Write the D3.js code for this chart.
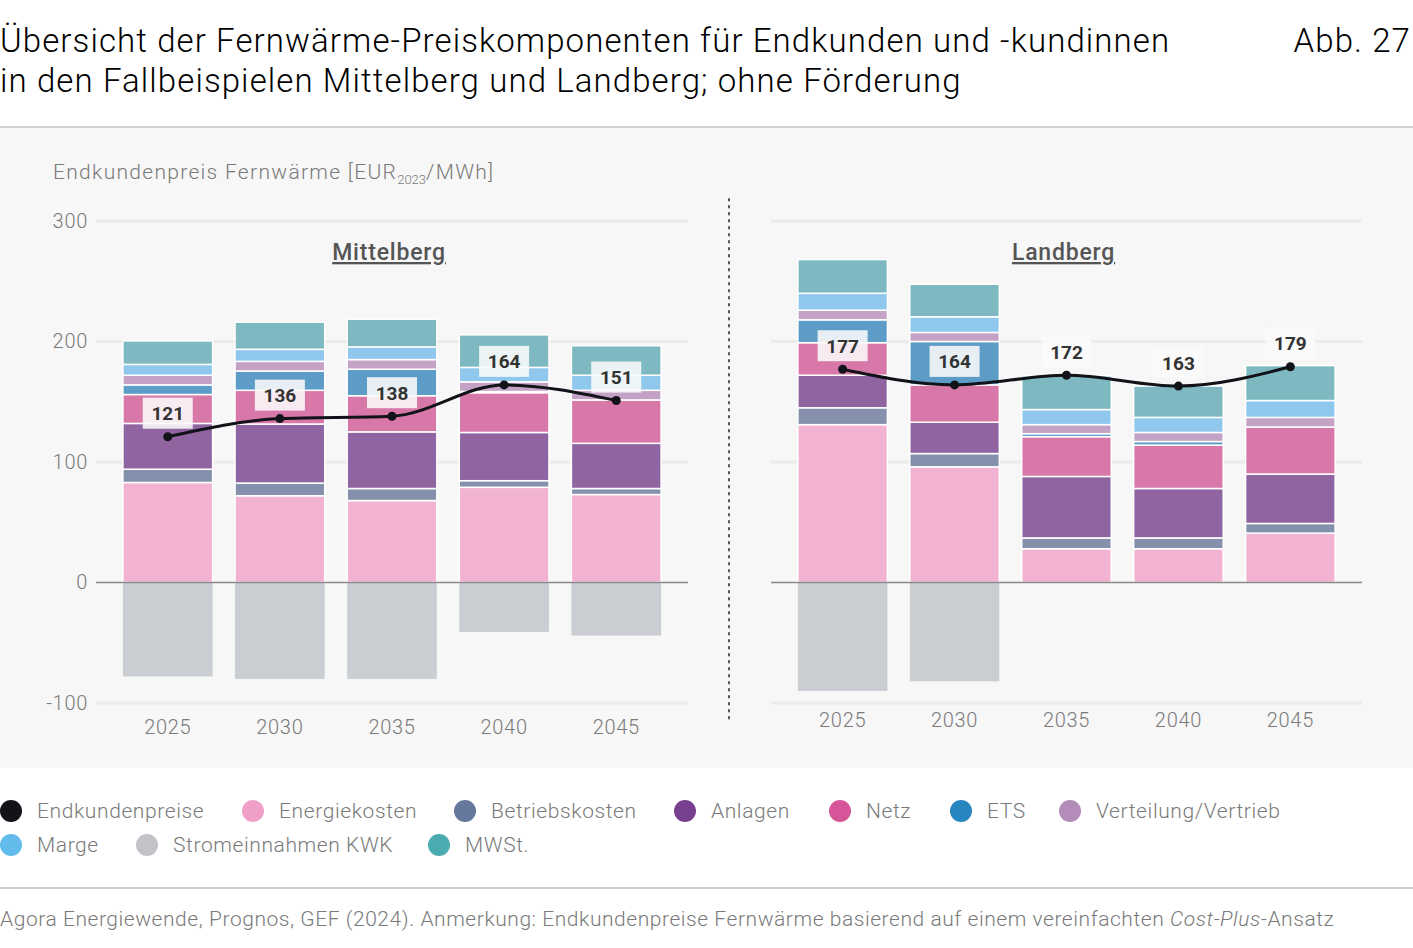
<!DOCTYPE html>
<html>
<head>
<meta charset="utf-8">
<script src="https://cdn.jsdelivr.net/npm/d3@7"></script>
<style>
  body { margin: 0; background: #fff; }
  text { font-family: Roboto, "Noto Sans", sans-serif; }
</style>
</head>
<body>
<div id="chart"></div>
<script>
const width = 1413,
    height = 948;

// years on the x axis
const years = ["2025", "2030", "2035", "2040", "2045"];

// component names (stack order bottom -> top)
const components = ["Energiekosten", "Betriebskosten", "Anlagen", "Netz", "ETS", "Verteilung/Vertrieb", "Marge", "MWSt."];

// Mittelberg
const m_energie = [83, 72, 68, 79, 73];
const m_betrieb = [11, 10.5, 10, 5.5, 5];
const m_anlagen = [38, 49, 47, 40, 37.5];
const m_netz = [24, 28, 30, 33, 36];
const m_ets = [8, 16, 22, 1, 0];
const m_vertrieb = [8, 8, 8, 8, 8];
const m_marge = [9, 10, 10.5, 12, 12.5];
const m_mwst = [19.5, 22.5, 23, 27, 24.5];
const m_strom = [-78, -80, -80, -41, -44];
const m_preis = [121, 136, 138, 164, 151];

// Landberg
const l_energie = [131, 96, 28, 28, 41];
const l_betrieb = [14, 11, 9, 9, 8];
const l_anlagen = [27, 26, 51, 41, 41];
const l_netz = [27, 31, 33, 36, 39];
const l_ets = [19, 36, 2.5, 3, 0];
const l_vertrieb = [8, 7.5, 7.5, 7.5, 8];
const l_marge = [14, 13, 12.5, 12.5, 14];
const l_mwst = [28, 27, 28, 26, 29];
const l_strom = [-90, -82, 0, 0, 0];
const l_preis = [177, 164, 172, 163, 179];

const yTicks = [-100, 0, 100, 200, 300];

const legendItems = ["Endkundenpreise", "Energiekosten", "Betriebskosten", "Anlagen", "Netz", "ETS", "Verteilung/Vertrieb", "Marge", "Stromeinnahmen KWK", "MWSt."];
const legendColors = ["#111318", "#f0a0c6", "#66789c", "#7a4090", "#d65497", "#2786bf", "#b38cba", "#62bbea", "#c1c3c8", "#4aabb1"];
// lighter tints used for the bars
const barColors = ["#111318", "#f2b2d1", "#8590ac", "#8f64a0", "#d878a8", "#5e9cc8", "#c4a2c6", "#8fc8ec", "#caced3", "#7eb9c2"];

const color = d3.scaleOrdinal()
    .domain(legendItems)
    .range(legendColors);

const barColor = d3.scaleOrdinal()
    .domain(legendItems)
    .range(barColors);

const panels = [
    { name: "Mittelberg", range: [96, 688], labelY: 730,
      parts: [m_energie, m_betrieb, m_anlagen, m_netz, m_ets, m_vertrieb, m_marge, m_mwst],
      strom: m_strom, preis: m_preis },
    { name: "Landberg", range: [771, 1362], labelY: 723,
      parts: [l_energie, l_betrieb, l_anlagen, l_netz, l_ets, l_vertrieb, l_marge, l_mwst],
      strom: l_strom, preis: l_preis }
];

const svg = d3.select("#chart")
    .append("svg")
    .attr("width", width)
    .attr("height", height);

// plot background
svg.append("rect")
    .attr("x", 0).attr("y", 128)
    .attr("width", width).attr("height", 640)
    .attr("fill", "#f7f7f7");

// separators
[127, 888].forEach(function(y) {
    svg.append("line")
        .attr("x1", 0).attr("x2", width)
        .attr("y1", y).attr("y2", y)
        .attr("stroke", "#cfcfcf")
        .attr("stroke-width", 2);
});

// title
const titleStyle = function(t) {
    t.style("font-size", "33px")
        .style("font-weight", 300)
        .style("letter-spacing", "1.1px")
        .style("fill", "#000");
};
svg.append("text")
    .attr("x", 0).attr("y", 52)
    .call(titleStyle)
    .text("Übersicht der Fernwärme-Preiskomponenten für Endkunden und -kundinnen");
svg.append("text")
    .attr("x", 0).attr("y", 92)
    .call(titleStyle)
    .text("in den Fallbeispielen Mittelberg und Landberg; ohne Förderung");
svg.append("text")
    .attr("x", 1411).attr("y", 52)
    .attr("text-anchor", "end")
    .call(titleStyle)
    .text("Abb. 27");

// y axis title
const yTitle = svg.append("text")
    .attr("x", 53).attr("y", 179)
    .style("font-size", "21px")
    .style("font-weight", 300)
    .style("letter-spacing", "1.3px")
    .style("fill", "#7a7a7a");
yTitle.append("tspan").text("Endkundenpreis Fernwärme [EUR");
yTitle.append("tspan").attr("dy", 5).style("font-size", "13px").style("letter-spacing", "0px").text("2023");
yTitle.append("tspan").attr("dy", -5).text("/MWh]");

const y = d3.scaleLinear()
    .domain([-100, 300])
    .range([703, 221]);

// y axis labels
const yAxis = svg.append("g")
    .attr("transform", "translate(88,0)")
    .call(d3.axisLeft(y).tickValues(yTicks).tickSize(0).tickPadding(0)
        .tickFormat(function(d) { return String(d) }));
yAxis.select(".domain").remove();
yAxis.selectAll("text")
    .style("font-family", "Roboto, sans-serif")
    .style("font-size", "20px")
    .style("font-weight", 300)
    .style("letter-spacing", "0.7px")
    .style("fill", "#7a7a7a");

// dotted divider
svg.append("line")
    .attr("x1", 729).attr("x2", 729)
    .attr("y1", 199).attr("y2", 720)
    .attr("stroke", "#555")
    .attr("stroke-width", 2)
    .attr("stroke-dasharray", "1.5,5.5")
    .attr("stroke-linecap", "round");

panels.forEach(function(p) {
    const x = d3.scaleBand()
        .domain(years)
        .range(p.range)
        .paddingInner(0.2)
        .paddingOuter(0.24);

    const g = svg.append("g");

    // grid
    g.selectAll(null)
        .data(yTicks.filter(function(t) { return t !== 0 }))
        .join("line")
        .attr("x1", p.range[0]).attr("x2", p.range[1])
        .attr("y1", function(d) { return y(d) })
        .attr("y2", function(d) { return y(d) })
        .attr("stroke", "#ebebeb")
        .attr("stroke-width", 3);

    // stacked rows
    const rows = years.map(function(yr, i) {
        const r = { year: yr, strom: p.strom[i] };
        components.forEach(function(c, k) { r[c] = p.parts[k][i] });
        return r;
    });
    const series = d3.stack().keys(components)(rows);

    g.selectAll(null)
        .data(series)
        .join("g")
        .attr("fill", function(d) { return barColor(d.key) })
        .selectAll("rect")
        .data(function(d) { return d.filter(function(v) { return v[1] - v[0] > 0 }) })
        .join("rect")
        .attr("x", function(d) { return x(d.data.year) })
        .attr("y", function(d) { return y(d[1]) })
        .attr("width", x.bandwidth())
        .attr("height", function(d) { return y(d[0]) - y(d[1]) })
        .attr("stroke", "#fff")
        .attr("stroke-width", 1.5);

    // negative: Stromeinnahmen KWK
    g.selectAll(null)
        .data(rows.filter(function(d) { return d.strom < 0 }))
        .join("rect")
        .attr("x", function(d) { return x(d.year) })
        .attr("y", y(0))
        .attr("width", x.bandwidth())
        .attr("height", function(d) { return y(d.strom) - y(0) })
        .attr("fill", barColor("Stromeinnahmen KWK"));

    // zero line
    g.append("line")
        .attr("x1", p.range[0]).attr("x2", p.range[1])
        .attr("y1", y(0)).attr("y2", y(0))
        .attr("stroke", "#8a8a8a")
        .attr("stroke-width", 1.5);

    // x axis labels
    const xAxis = g.append("g")
        .attr("transform", `translate(0,${p.labelY - 14})`)
        .call(d3.axisBottom(x).tickSize(0).tickPadding(0));
    xAxis.select(".domain").remove();
    xAxis.selectAll("text")
        .attr("dy", "0.9em")
        .style("font-family", "Roboto, sans-serif")
        .style("font-size", "20px")
        .style("font-weight", 300)
        .style("letter-spacing", "0.7px")
        .style("fill", "#7a7a7a");

    // panel title
    g.append("text")
        .attr("x", (p.range[0] + p.range[1]) / 2 - 3)
        .attr("y", 260)
        .attr("text-anchor", "middle")
        .style("font-size", "23px")
        .style("font-weight", 500)
        .style("letter-spacing", "0.8px")
        .style("fill", "#555")
        .style("text-decoration", "underline")
        .text(p.name);

    // Endkundenpreis line
    const pts = years.map(function(yr, i) { return [x(yr) + x.bandwidth() / 2, y(p.preis[i]), p.preis[i]] });

    g.append("path")
        .datum(pts)
        .attr("d", d3.line().curve(d3.curveMonotoneX))
        .attr("fill", "none")
        .attr("stroke", color("Endkundenpreise"))
        .attr("stroke-width", 3);

    g.selectAll(null)
        .data(pts)
        .join("circle")
        .attr("cx", function(d) { return d[0] })
        .attr("cy", function(d) { return d[1] })
        .attr("r", 4.5)
        .attr("fill", color("Endkundenpreise"));

    // value labels with light box
    g.selectAll(null)
        .data(pts)
        .join("rect")
        .attr("x", function(d) { return d[0] - 25 })
        .attr("y", function(d) { return d[1] - 39 })
        .attr("width", 50)
        .attr("height", 31)
        .attr("fill", "#fbfbfb")
        .attr("fill-opacity", 0.88);

    g.selectAll(null)
        .data(pts)
        .join("text")
        .attr("x", function(d) { return d[0] })
        .attr("y", function(d) { return d[1] - 23 })
        .attr("text-anchor", "middle")
        .attr("dominant-baseline", "central")
        .style("font-size", "19px")
        .style("font-weight", 700)
        .style("fill", "#333")
        .text(function(d) { return d[2] });
});

// legend
const legendPos = [
    [11, 811], [253, 811], [465, 811], [685, 811], [840, 811], [961, 811], [1070, 811],
    [11, 845], [147, 845], [439, 845]
];

const legend = svg.selectAll(null)
    .data(legendItems)
    .join("g")
    .attr("transform", function(d, i) { return `translate(${legendPos[i][0]},${legendPos[i][1]})` });

legend.append("circle")
    .attr("r", 11)
    .attr("fill", function(d) { return color(d) });

legend.append("text")
    .attr("x", 26)
    .attr("dy", "0.35em")
    .style("font-size", "21px")
    .style("font-weight", 300)
    .style("letter-spacing", "0.6px")
    .style("fill", "#7a7a7a")
    .text(function(d) { return d });

// footer
const foot = svg.append("text")
    .attr("x", 0).attr("y", 926)
    .style("font-size", "21px")
    .style("font-weight", 300)
    .style("letter-spacing", "0.55px")
    .style("fill", "#7a7a7a");
foot.append("tspan").text("Agora Energiewende, Prognos, GEF (2024). Anmerkung: Endkundenpreise Fernwärme basierend auf einem vereinfachten ");
foot.append("tspan").style("font-style", "italic").text("Cost-Plus");
foot.append("tspan").text("-Ansatz");
</script>
</body>
</html>
